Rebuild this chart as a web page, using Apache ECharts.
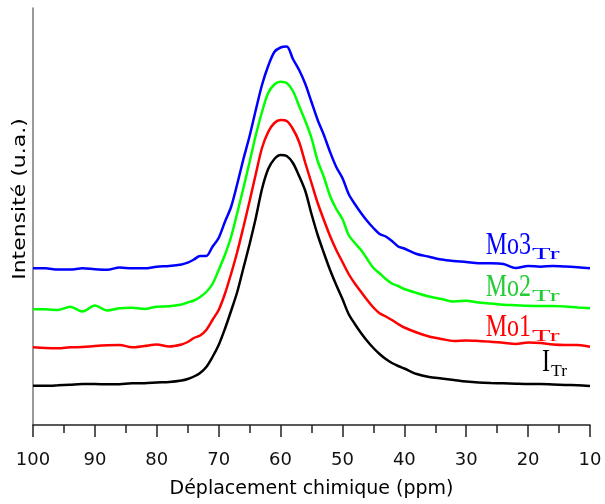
<!DOCTYPE html>
<html>
<head>
<meta charset="utf-8">
<script src="https://cdn.jsdelivr.net/npm/echarts@6/dist/echarts.min.js"></script>
<style>html,body{margin:0;padding:0;background:#fff}#c{width:605px;height:504px}</style>
</head>
<body>
<div id="c"></div>
<script>
// Chemical shift (ppm)
var ppm = [100,98,96,94,92,90,88,86,84,82,80,78,76,
  75,74,73,72,71,70,69,68,67,66,65,64,63,62,61,60,59,58,57,56,55,54,53,52,51,50,49,48,47,46,45,44,43,42,41,40,
  38,36,34,32,30,28,26,24,22,20,18,16,14,12,10];
// Intensity (a.u., stacked offsets as in the figure)
var I_Tr = [39.3,39.3,39.7,40.3,41,41,40.7,40.8,41.7,41.7,42.5,43,44.5,
  46,48.5,52,58,68,80,96,114,133,157,181,207,236,256,266,270,269,262,249,234,211,190,172,155,140,126,111,101,92,84,77,71,66,62,59,56.5,
  51,48,46.5,45,43.5,42.5,42,41.7,41.3,41,41,40.5,40,39.7,39];
var Mo1_Tr = [77.7,77,76.7,77.7,78,79,79.7,80,77.7,79,80.5,78.5,80.5,
  83,87,89.5,95,105,115,131,151,173,198,224,251,277,293,302,305,304,296,283,262,242,222,205,189,175,163,151,141.5,133.3,125,117.5,111.7,108.5,105,101,97.5,
  92.5,88.5,86,84,84.5,84,83.3,82.2,81,82.5,82,80.5,80,80,78.3];
var Mo2_Tr = [115.7,115.7,115,118.3,113.5,119.5,114.5,116.7,117.3,116,118.3,118.7,120.5,
  122.5,124.5,128,133,141,155,170,188,212,237,263,290,313,332,340.5,343.3,342,334,319,304,287,264,248,229,216,206,190,182,175,166,157,151.7,146,141.5,139,136,
  132,128.5,126,123.5,124.3,122.5,121.5,120.3,119.8,119.2,119,119,118.5,117.5,116.7];
var Mo3_Tr = [156.7,156.7,155.5,155.5,156.7,155.7,155.2,157.5,156.7,156.7,158.3,159,160.5,
  162.3,165.5,169,169,178.3,187,203,218,241,266,289,315,340,359,373,377.5,378.5,366,355,341,323,305,290,273,258,247,231,221,212,204,197,191,188.5,184,178.5,176.5,
  171,168.3,165.5,164,163,161.7,161.7,161,157,159,158.3,159,158.5,157.7,156.7];

var xTitle = 'Déplacement chimique (ppm)';
var yTitle = 'Intensité (u.a.)';

function pairs(arr){ return ppm.map(function(x,i){ return [x, arr[i]]; }); }

var chart = echarts.init(document.getElementById('c'), null, {renderer:'canvas'});
var serif = '"Liberation Serif","Times New Roman",serif';
var sans = '"DejaVu Sans",sans-serif';

function lineSeries(name, data, color){
  return {name:name, type:'line', data:pairs(data), showSymbol:false, symbol:'none', smooth:0.3,
    lineStyle:{color:color, width:2.5}, animation:false, z:3};
}

function lbl(main, sub, color, split, cy, subScale){
  return [
    {type:'text', x:split+1, y:cy+1, scaleX:subScale, style:{text:sub, fill:color, font:'16px '+serif, textAlign:'left', textVerticalAlign:'bottom'}},
    {type:'text', x:split, y:cy, scaleX:0.75, style:{text:main, fill:color, font:'32px '+serif, textAlign:'right', textVerticalAlign:'bottom'}}
  ];
}

var g = [];
g = g.concat(lbl('Mo3','Tr','#0000ff',531,262,1.9));
g = g.concat(lbl('Mo2','Tr','#22cc33',531,304,1.9));
g = g.concat(lbl('Mo1','Tr','#ff0000',531,344,1.9));
g = g.concat(lbl('I','Tr','#000000',550,379,1.1));
g.push({type:'text', x:20, y:199, rotation:Math.PI/2, scaleX:1.22, style:{text:yTitle, fill:'#000', font:'18px '+sans, textAlign:'center', textVerticalAlign:'middle'}});

chart.setOption({
  animation:false,
  grid:{left:33, right:15, top:8, bottom:79},
  xAxis:{type:'value', min:10, max:100, interval:10, inverse:true,
    name:xTitle, nameLocation:'middle', nameGap:55,
    nameTextStyle:{fontFamily:'DejaVu Sans', fontSize:19, color:'#000'},
    axisLine:{lineStyle:{color:'#222', width:1.5}},
    axisTick:{show:true, length:12, lineStyle:{color:'#222', width:1.5}},
    minorTick:{show:true, splitNumber:2, length:8, lineStyle:{color:'#222', width:1.5}},
    axisLabel:{fontFamily:'DejaVu Sans', fontSize:18, color:'#111', margin:26},
    splitLine:{show:false}},
  yAxis:{type:'value', min:0, max:417,
    axisLine:{show:true, lineStyle:{color:'#777', width:1.5}},
    axisTick:{show:false}, axisLabel:{show:false}, splitLine:{show:false}},
  series:[
    lineSeries('I_Tr', I_Tr, '#000000'),
    lineSeries('Mo1_Tr', Mo1_Tr, '#ff0000'),
    lineSeries('Mo2_Tr', Mo2_Tr, '#00ff00'),
    lineSeries('Mo3_Tr', Mo3_Tr, '#0000ff')
  ],
  graphic:g
});
</script>
</body>
</html>
